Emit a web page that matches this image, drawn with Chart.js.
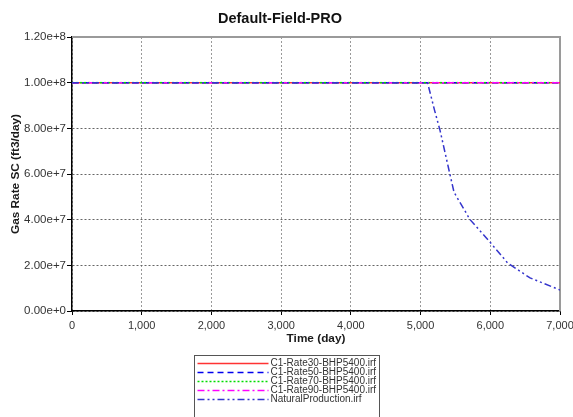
<!DOCTYPE html>
<html>
<head>
<meta charset="utf-8">
<script src="https://cdn.jsdelivr.net/npm/chart.js@4.4.1/dist/chart.umd.min.js"></script>
<style>
  html, body { margin: 0; padding: 0; background: #fff; }
</style>
</head>
<body>
<canvas id="gasRateChart" width="573" height="417"></canvas>
<script>
const chartTitle = 'Default-Field-PRO';
const xTitle = 'Time (day)';
const yTitle = 'Gas Rate SC (ft3/day)';

const seriesNames = [
  'C1-Rate30-BHP5400.irf',
  'C1-Rate50-BHP5400.irf',
  'C1-Rate70-BHP5400.irf',
  'C1-Rate90-BHP5400.irf',
  'NaturalProduction.irf',
];

// the four rate cases stay on the 1e8 plateau the whole run
const flatDays = [0, 7000];
const rate30 = [1e8, 1e8];
const rate50 = [1e8, 1e8];
const rate70 = [1e8, 1e8];
const rate90 = [1e8, 1e8];

// natural production falls off after ~5100 days
const naturalDays = [0, 5100, 5200, 5280, 5420, 5480, 5710, 6000, 6250, 6570, 7000];
const naturalRate = [1e8, 1e8, 8.8e7, 7.9e7, 6.0e7, 5.2e7, 4.0e7, 3.0e7, 2.1e7, 1.45e7, 9.2e6];

const xTicks = [0, 1000, 2000, 3000, 4000, 5000, 6000, 7000];
const yTicks = [0, 2e7, 4e7, 6e7, 8e7, 1e8, 1.2e8];

const toPoints = (xs, ys) => xs.map((x, i) => ({ x: x, y: ys[i] }));

const frame = {
  id: 'frame',
  beforeDatasetsDraw(chart) {
    const { ctx, chartArea } = chart;
    ctx.save();
    ctx.strokeStyle = '#9a9a9a';
    ctx.lineWidth = 2;
    ctx.beginPath();
    ctx.moveTo(chartArea.left, chartArea.top);
    ctx.lineTo(chartArea.right, chartArea.top);
    ctx.lineTo(chartArea.right, chartArea.bottom);
    ctx.stroke();
    ctx.restore();
  },
};

const boxLegend = {
  id: 'boxLegend',
  afterDraw(chart) {
    const ctx = chart.ctx;
    const left = 194.5;
    const top = 355.5;
    ctx.save();
    ctx.strokeStyle = '#555';
    ctx.lineWidth = 1;
    ctx.strokeRect(left, top, 185, 80);
    ctx.font = '10px "Liberation Sans", Arial, sans-serif';
    ctx.textBaseline = 'middle';
    ctx.fillStyle = '#333';
    chart.data.datasets.forEach((ds, i) => {
      const y = 363.5 + i * 9;
      ctx.strokeStyle = ds.borderColor;
      ctx.lineWidth = ds.borderWidth;
      ctx.setLineDash(ds.borderDash || []);
      ctx.beginPath();
      ctx.moveTo(left + 3, y);
      ctx.lineTo(left + 74, y);
      ctx.stroke();
      ctx.setLineDash([]);
      ctx.fillText(ds.label, left + 76, y);
    });
    ctx.restore();
  },
};

new Chart(document.getElementById('gasRateChart'), {
  type: 'line',
  data: {
    datasets: [
      { label: seriesNames[0], data: toPoints(flatDays, rate30), borderColor: '#ff3333', borderWidth: 1.5, order: 4 },
      { label: seriesNames[1], data: toPoints(flatDays, rate50), borderColor: '#0000ee', borderWidth: 1.5, borderDash: [6, 4], order: 3 },
      { label: seriesNames[2], data: toPoints(flatDays, rate70), borderColor: '#00dd00', borderWidth: 1.5, borderDash: [2, 2], order: 2 },
      { label: seriesNames[3], data: toPoints(flatDays, rate90), borderColor: '#ff00ff', borderWidth: 1.5, borderDash: [7, 3, 2, 3], order: 1 },
      { label: seriesNames[4], data: toPoints(naturalDays, naturalRate), borderColor: '#3535cc', borderWidth: 1.5, borderDash: [7, 3, 2, 3, 2, 3], order: 0 },
    ],
  },
  options: {
    responsive: false,
    animation: false,
    devicePixelRatio: 1,
    elements: { point: { radius: 0 }, line: { tension: 0 } },
    layout: { padding: { left: 0, right: 13, top: 0, bottom: 0 } },
    plugins: {
      legend: { display: false },
      tooltip: { enabled: false },
      title: {
        display: true,
        text: chartTitle,
        color: '#111',
        font: { family: '"Liberation Sans", Arial, sans-serif', size: 14.5, weight: 'bold' },
        padding: { top: 10.5, bottom: 9.1 },
      },
    },
    scales: {
      x: {
        type: 'linear',
        min: xTicks[0],
        max: xTicks[xTicks.length - 1],
        afterBuildTicks: (scale) => { scale.ticks = xTicks.map((v) => ({ value: v })); },
        afterFit: (scale) => { scale.height = 106; scale.paddingLeft = 0; scale.paddingRight = 0; },
        grid: { color: '#999', lineWidth: 1, tickColor: '#000', tickLength: 4 },
        border: { color: '#000', width: 1.5, dash: [2, 2] },
        ticks: {
          color: '#333',
          padding: 4,
          maxRotation: 0,
          font: { family: '"Liberation Sans", Arial, sans-serif', size: 11 },
          callback: (v) => v.toLocaleString('en-US'),
        },
        title: {
          display: true,
          text: xTitle,
          color: '#1a1a1a',
          font: { family: '"Liberation Sans", Arial, sans-serif', size: 11.8, weight: 'bold' },
          padding: { top: 0, bottom: 70.9 },
        },
      },
      y: {
        type: 'linear',
        min: yTicks[0],
        max: yTicks[yTicks.length - 1],
        afterBuildTicks: (scale) => { scale.ticks = yTicks.map((v) => ({ value: v })); },
        afterFit: (scale) => { scale.width = 72; },
        grid: { color: '#666', lineWidth: 1, tickColor: '#000', tickLength: 5 },
        border: { color: '#000', width: 1.5, dash: [2, 2] },
        ticks: {
          color: '#333',
          padding: 1,
          font: { family: '"Liberation Sans", Arial, sans-serif', size: 11.5 },
          callback: (v) => v.toExponential(2),
        },
        title: {
          display: true,
          text: yTitle,
          color: '#1a1a1a',
          font: { family: '"Liberation Sans", Arial, sans-serif', size: 11.8, weight: 'bold' },
          padding: { top: 9, bottom: 0 },
        },
      },
    },
  },
  plugins: [frame, boxLegend],
});
</script>
</body>
</html>
